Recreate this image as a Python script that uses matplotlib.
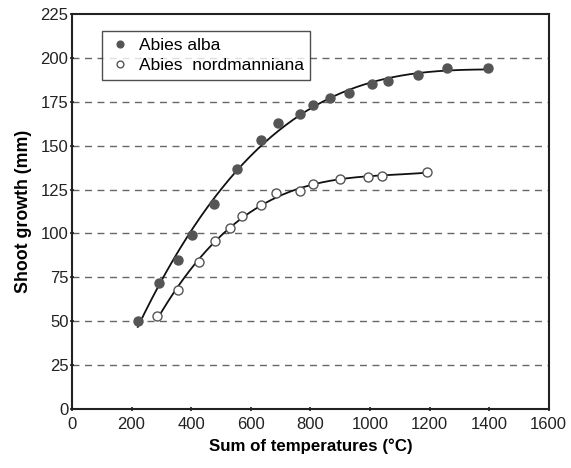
import numpy as np
import matplotlib
matplotlib.use("Agg")
import matplotlib.pyplot as plt

plt.rcParams['font.family'] = ['Liberation Sans', 'DejaVu Sans']

# Abies alba: sum of temperatures vs shoot growth
alba_x = [221, 292, 357, 402, 478, 553, 633, 693, 766, 808, 865, 930, 1007, 1060, 1160, 1260, 1395]
alba_y = [50, 72, 85, 99, 117, 137, 153, 163, 168, 173, 177, 180, 185, 187, 190, 194, 194]

# Abies nordmanniana
nord_x = [286, 357, 428, 480, 529, 572, 635, 686, 766, 808, 900, 994, 1041, 1193]
nord_y = [53, 68, 84, 96, 103, 110, 116, 123, 124, 128, 131, 132, 133, 135]

xticks = [0, 200, 400, 600, 800, 1000, 1200, 1400, 1600]
yticks = [0, 25, 50, 75, 100, 125, 150, 175, 200, 225]

fig = plt.figure(figsize=(5.71, 4.68), dpi=100)
ax = fig.add_axes([0.126, 0.126, 0.835, 0.844])

# fitted trend lines
for xs, ys in [(alba_x, alba_y), (nord_x, nord_y)]:
    coef = np.polyfit(xs, ys, 3)
    xx = np.linspace(min(xs), max(xs), 200)
    ax.plot(xx, np.polyval(coef, xx), color='#111111', lw=1.3, zorder=2)

ax.plot(alba_x, alba_y, 'o', ms=6.5, color='#555555', mec='#555555', label='Abies alba', zorder=3)
ax.plot(nord_x, nord_y, 'o', ms=6.5, mfc='white', mec='#555555', mew=1.0,
        label='Abies  nordmanniana', zorder=3)

for yv in yticks[1:-1]:
    ax.axhline(yv, color='#666666', lw=1.0, ls=(0, (5, 4)), zorder=1)

ax.set_xlim(0, 1600)
ax.set_ylim(0, 225)
ax.set_xticks(xticks)
ax.set_yticks(yticks)
ax.tick_params(labelsize=12, length=3, width=1.2, direction='inout', colors='#222222')
ax.tick_params(axis='y', pad=1)
ax.tick_params(axis='x', pad=4)

for s in ax.spines.values():
    s.set_linewidth(1.5)
    s.set_color('#222222')

ax.set_xlabel('Sum of temperatures (°C)', fontsize=12.2, fontweight='bold', labelpad=5)
ax.set_ylabel('Shoot growth (mm)', fontsize=12.8, fontweight='bold', labelpad=6)

leg = ax.legend(loc='upper left', bbox_to_anchor=(0.045, 0.979), fontsize=12.5,
                frameon=True, fancybox=False, edgecolor='#222222',
                handletextpad=0.4, handlelength=1.3, borderpad=0.4, labelspacing=0.3,
                markerscale=0.75)
leg.get_frame().set_linewidth(1.0)

fig.savefig('out.png', dpi=100)
